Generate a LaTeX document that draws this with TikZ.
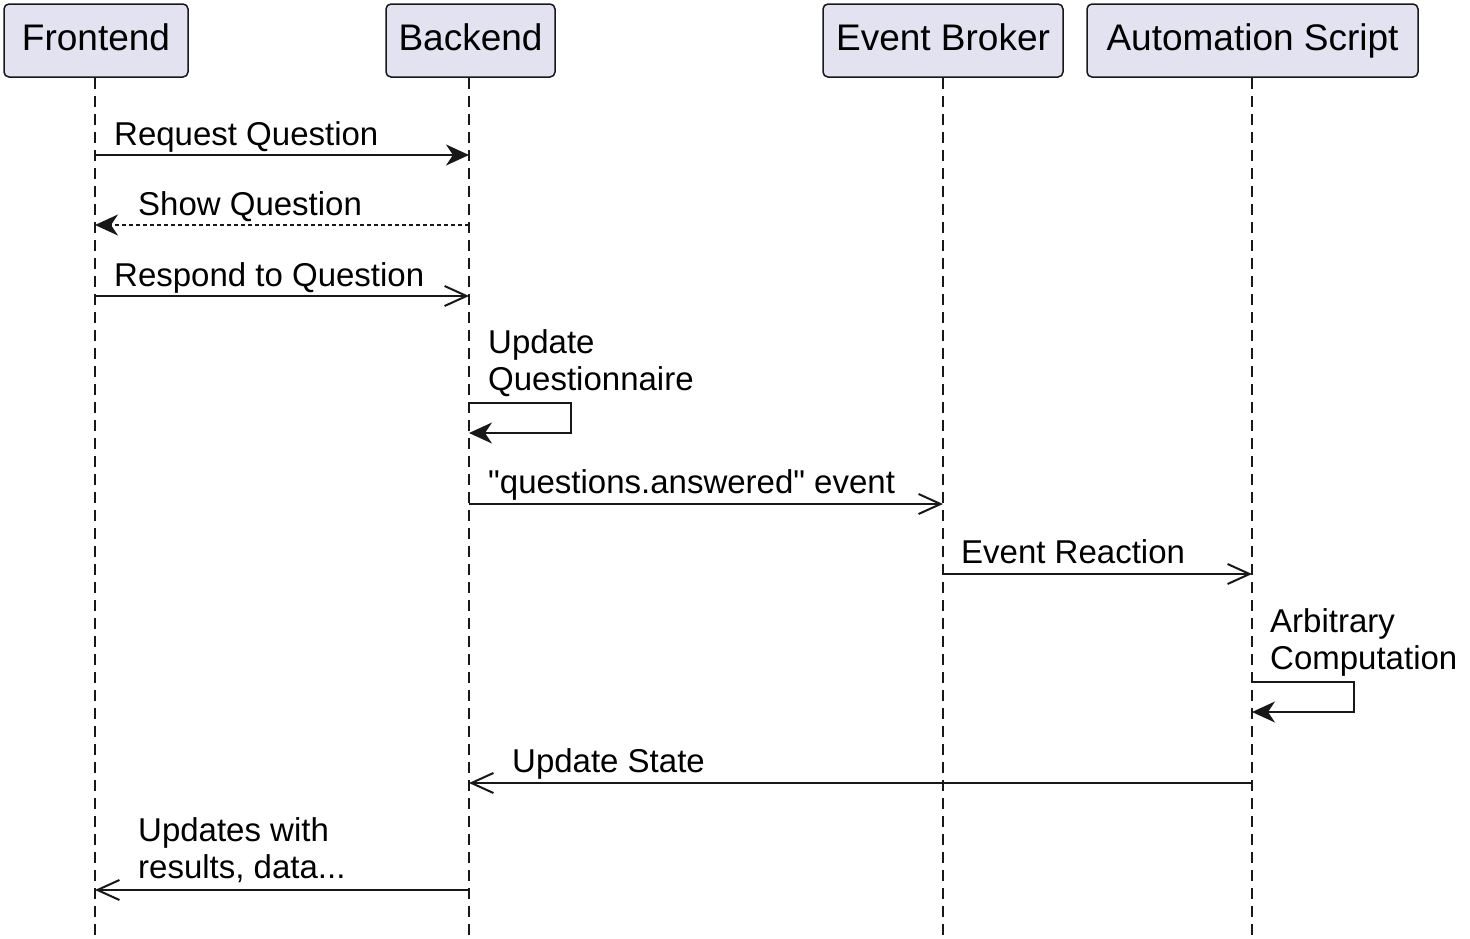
\documentclass[tikz,border=0pt]{standalone}
\usepackage{fontspec}
\setmainfont[Ligatures=TeXOff]{Liberation Sans}
\usetikzlibrary{arrows.meta, positioning}

\definecolor{boxfill}{HTML}{E2E2F0}
\definecolor{ink}{HTML}{181818}

\begin{document}
\begin{tikzpicture}[x=1pt,y=-1pt,
  actor/.style={draw=ink,line width=1.5pt,fill=boxfill,rounded corners=5pt,
    minimum height=73pt,inner sep=0pt,text height=26pt,text depth=7pt,
    font=\fontsize{37}{40}\selectfont},
  life/.style={draw=ink,line width=1.1pt,dash pattern=on 11pt off 7pt},
  msg/.style={draw=ink,line width=2pt},
  sync/.style={msg,-{Stealth[length=23pt,width=21pt,inset=7pt]}},
  async/.style={msg,-{Straight Barb[length=22pt,width=20pt]}},
  reply/.style={sync,dash pattern=on 4pt off 3pt},
  lbl/.style={inner sep=0pt,anchor=base west,align=left,
    font=\fontsize{33}{37}\selectfont}]
\useasboundingbox (0,0) rectangle (1470,938);
% Participants
\node[actor,minimum width=184pt] (fe) at (96,40.5) {Frontend};
\node[actor,minimum width=169pt] (be) at (470.5,40.5) {Backend};
\node[actor,minimum width=240pt] (eb) at (943,40.5) {Event Broker};
\node[actor,minimum width=331pt] (as) at (1252.5,40.5) {Automation Script};
% Lifelines
\coordinate (fe0) at (95,78);   \coordinate (fe9) at (95,938);
\coordinate (be0) at (469,78);  \coordinate (be9) at (469,938);
\coordinate (eb0) at (943,78);  \coordinate (eb9) at (943,938);
\coordinate (as0) at (1252,78); \coordinate (as9) at (1252,938);
\draw[life] (fe0) -- (fe9);
\draw[life] (be0) -- (be9);
\draw[life] (eb0) -- (eb9);
\draw[life] (as0) -- (as9);
% Request and show question
\coordinate (fe1) at (95,155); \coordinate (be1) at (469,155);
\draw[sync] (fe1) -- (be1);
\node[lbl] (m1) at (114,145) {Request Question};
\coordinate (fe2) at (95,225); \coordinate (be2) at (469,225);
\draw[reply] (be2) -- (fe2);
\node[lbl] (m2) at (138,215) {Show Question};
\coordinate (fe3) at (95,296); \coordinate (be3) at (469,296);
\draw[async] (fe3) -- (be3);
\node[lbl] (m3) at (114,286) {Respond to Question};
% Backend updates itself
\coordinate (be4) at (469,403); \coordinate (be5) at (469,433);
\draw[sync] (be4) -- ++(102,0) |- (be5);
\node[lbl] (m4) at (488,390) {Update\\Questionnaire};
% Event goes to broker and script
\coordinate (be6) at (469,504); \coordinate (eb6) at (943,504);
\draw[async] (be6) -- (eb6);
\node[lbl] (m5) at (488,493) {"questions.answered" event};
\coordinate (eb7) at (943,574); \coordinate (as7) at (1252,574);
\draw[async] (eb7) -- (as7);
\node[lbl] (m6) at (961,563) {Event Reaction};
% Script computes
\coordinate (as8) at (1252,682); \coordinate (as10) at (1252,712);
\draw[sync] (as8) -- ++(102,0) |- (as10);
\node[lbl] (m7) at (1270,669) {Arbitrary\\Computation};
% Results flow back
\coordinate (as11) at (1252,783); \coordinate (be11) at (469,783);
\draw[async] (as11) -- (be11);
\node[lbl] (m8) at (512,772) {Update State};
\coordinate (be12) at (469,890); \coordinate (fe12) at (95,890);
\draw[async] (be12) -- (fe12);
\node[lbl] (m9) at (138,878) {Updates with\\results, data...};
\end{tikzpicture}
\end{document}
